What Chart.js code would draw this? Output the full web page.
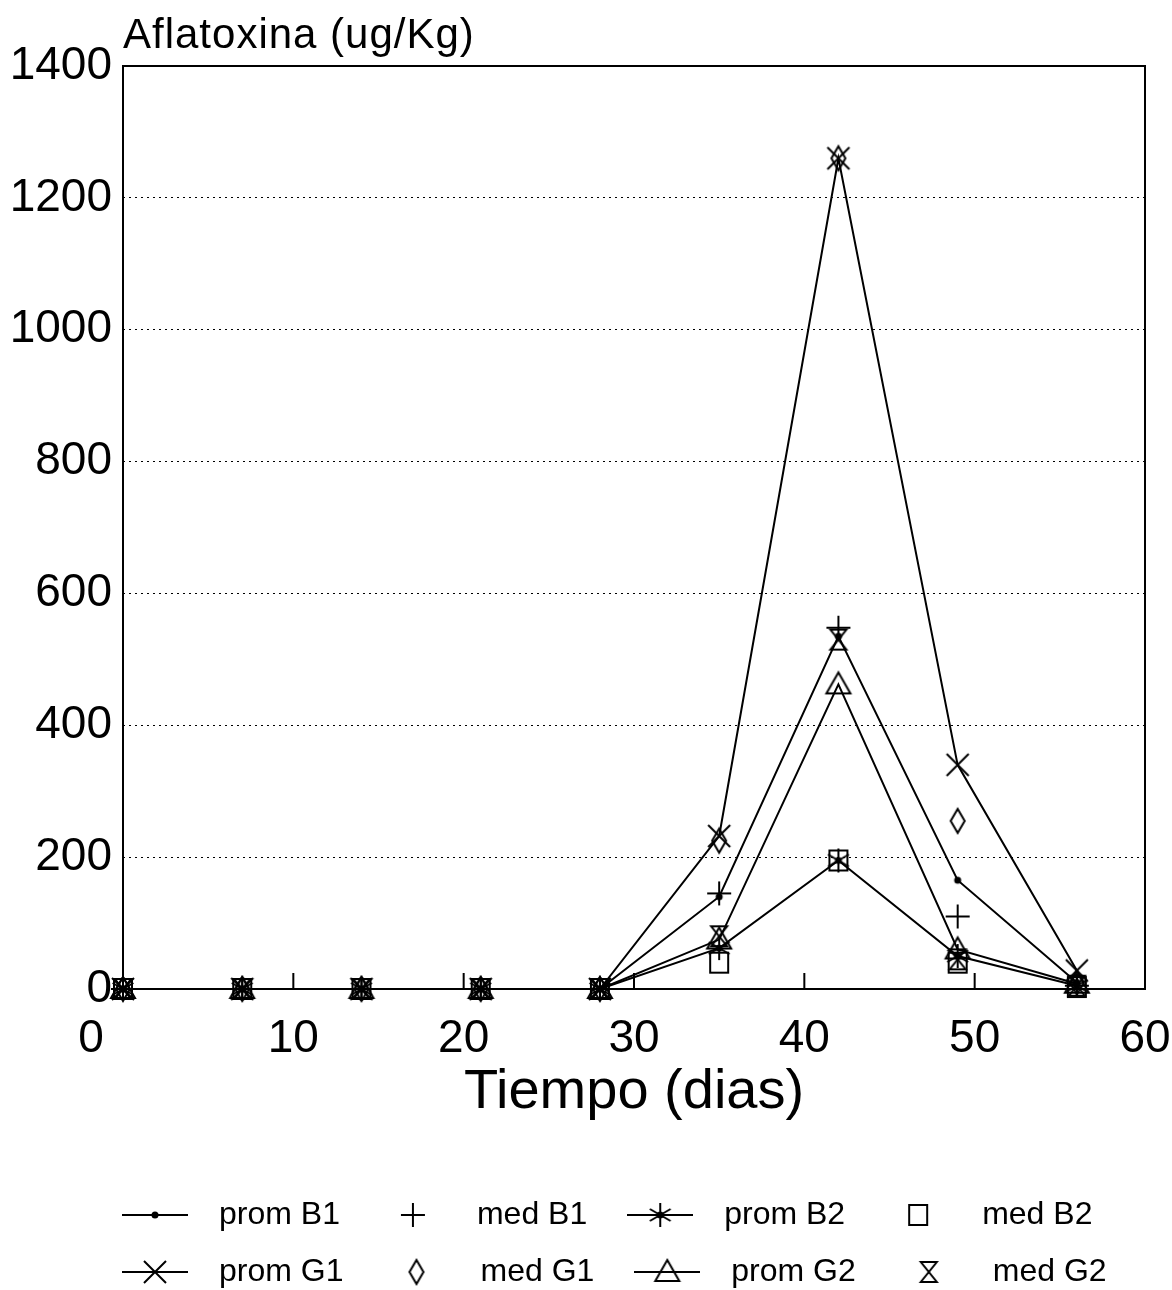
<!DOCTYPE html>
<html>
<head>
<meta charset="utf-8">
<title>Aflatoxina</title>
<script src="https://cdn.jsdelivr.net/npm/chart.js@4.4.0/dist/chart.umd.min.js"></script>
<style>
  html, body { margin: 0; padding: 0; background: #fff; }
  #wrap { width: 1172px; height: 1290px; }
</style>
</head>
<body>
<div id="wrap"><canvas id="aflaChart"></canvas></div>
<script>
// dias de muestreo
const days = [0, 7, 14, 21, 28, 35, 42, 49, 56];
const xTicks = [0, 10, 20, 30, 40, 50, 60];
const yTicks = [0, 200, 400, 600, 800, 1000, 1200, 1400];

// valores (ug/Kg)
const promB1 = [0, 0, 0, 0, 0, 140, 535, 165, 10];
const medB1  = [0, 0, 0, 0, 0, 145, 548, 110, 5];
const promB2 = [0, 0, 0, 0, 0, 62, 195, 50, 5];
const medB2  = [0, 0, 0, 0, 0, 40, 195, 40, 3];
const promG1 = [0, 0, 0, 0, 0, 232, 1260, 340, 28];
const medG1  = [0, 0, 0, 0, 0, 225, 1260, 255, 10];
const promG2 = [0, 0, 0, 0, 0, 75, 462, 60, 8];
const medG2  = [0, 0, 0, 0, 0, 80, 530, 45, 5];

const seriesNames = ['prom B1', 'med B1', 'prom B2', 'med B2', 'prom G1', 'med G1', 'prom G2', 'med G2'];
const seriesValues = [promB1, medB1, promB2, medB2, promG1, medG1, promG2, medG2];
const seriesMarks = ['dot', 'plus', 'star', 'square', 'x', 'diamond', 'triangle', 'hourglass'];
const seriesLines = [true, false, true, false, true, false, true, false];

const FONT = "'Liberation Sans', Arial, sans-serif";

// dibuja un simbolo centrado en (cx, cy)
function drawMark(ctx, kind, cx, cy) {
  ctx.save();
  ctx.strokeStyle = '#000';
  ctx.fillStyle = '#000';
  ctx.lineWidth = 2;
  ctx.beginPath();
  if (kind === 'dot') {
    ctx.arc(cx, cy, 3.5, 0, Math.PI * 2);
    ctx.fill();
  } else if (kind === 'plus') {
    ctx.moveTo(cx - 12, cy); ctx.lineTo(cx + 12, cy);
    ctx.moveTo(cx, cy - 12); ctx.lineTo(cx, cy + 12);
    ctx.stroke();
  } else if (kind === 'x') {
    ctx.moveTo(cx - 11, cy - 11); ctx.lineTo(cx + 11, cy + 11);
    ctx.moveTo(cx + 11, cy - 11); ctx.lineTo(cx - 11, cy + 11);
    ctx.stroke();
  } else if (kind === 'star') {
    for (let a = 0; a < 3; a++) {
      const ang = Math.PI / 2 + a * Math.PI / 3;
      ctx.moveTo(cx + 12 * Math.cos(ang), cy + 12 * Math.sin(ang));
      ctx.lineTo(cx - 12 * Math.cos(ang), cy - 12 * Math.sin(ang));
    }
    ctx.stroke();
    ctx.beginPath();
    ctx.arc(cx, cy, 3.5, 0, Math.PI * 2);
    ctx.fill();
  } else if (kind === 'square') {
    ctx.rect(cx - 9, cy - 10, 18, 20);
    ctx.stroke();
  } else if (kind === 'diamond') {
    ctx.moveTo(cx, cy - 12); ctx.lineTo(cx + 7, cy);
    ctx.lineTo(cx, cy + 12); ctx.lineTo(cx - 7, cy);
    ctx.closePath();
    ctx.stroke();
  } else if (kind === 'triangle') {
    ctx.moveTo(cx, cy - 12); ctx.lineTo(cx + 12, cy + 9);
    ctx.lineTo(cx - 12, cy + 9);
    ctx.closePath();
    ctx.stroke();
  } else if (kind === 'hourglass') {
    ctx.moveTo(cx - 8, cy - 10); ctx.lineTo(cx + 8, cy - 10);
    ctx.lineTo(cx - 8, cy + 10); ctx.lineTo(cx + 8, cy + 10);
    ctx.closePath();
    ctx.stroke();
  }
  ctx.restore();
}

// icono como canvas (para puntos y leyenda)
function makeIcon(kind, withLine) {
  const c = document.createElement('canvas');
  c.width = withLine ? 66 : 30;
  c.height = 30;
  const ctx = c.getContext('2d');
  if (withLine) {
    ctx.strokeStyle = '#000';
    ctx.lineWidth = 2;
    ctx.beginPath();
    ctx.moveTo(0, 15); ctx.lineTo(66, 15);
    ctx.stroke();
  }
  drawMark(ctx, kind, c.width / 2, 15);
  return c;
}

const pointIcons = seriesMarks.map(k => makeIcon(k, false));
const legendIcons = seriesMarks.map((k, i) => makeIcon(k, seriesLines[i]));

const datasets = seriesNames.map((name, i) => ({
  label: name,
  data: days.map((d, j) => ({ x: d, y: seriesValues[i][j] })),
  showLine: seriesLines[i],
  borderColor: '#000',
  borderWidth: 2,
  backgroundColor: 'transparent',
  pointStyle: pointIcons[i],
  pointRadius: 12,
  pointHoverRadius: 12,
  tension: 0,
  clip: false
}));

// marco, marcas interiores del eje x y titulo del eje y
const framePlugin = {
  id: 'frame',
  afterLayout(chart) {
    // la leyenda empieza bajo el borde izquierdo del grafico
    chart.legend.left = 82;
    chart.legend.right = chart.width;
  },
  beforeDatasetsDraw(chart) {
    const { ctx, chartArea: a, scales } = chart;
    ctx.save();
    ctx.strokeStyle = '#000';
    ctx.lineWidth = 2;
    ctx.strokeRect(a.left, a.top, a.right - a.left, a.bottom - a.top);
    ctx.beginPath();
    xTicks.slice(1, -1).forEach(v => {
      const px = scales.x.getPixelForValue(v);
      ctx.moveTo(px, a.bottom);
      ctx.lineTo(px, a.bottom - 16);
    });
    ctx.stroke();
    ctx.restore();
  },
  afterDraw(chart) {
    const { ctx, chartArea: a } = chart;
    ctx.save();
    ctx.fillStyle = '#000';
    ctx.font = '42px ' + FONT;
    ctx.letterSpacing = '1px';
    ctx.textAlign = 'left';
    ctx.textBaseline = 'alphabetic';
    ctx.fillText('Aflatoxina (ug/Kg)', a.left, a.top - 18);
    ctx.restore();
  }
};

new Chart(document.getElementById('aflaChart'), {
  type: 'scatter',
  data: { datasets },
  plugins: [framePlugin],
  options: {
    responsive: true,
    maintainAspectRatio: false,
    animation: false,
    events: [],
    layout: { padding: { top: 66, left: 0, right: 0, bottom: -8 } },
    scales: {
      x: {
        type: 'linear',
        min: 0,
        max: 60,
        afterBuildTicks: (scale) => { scale.ticks = xTicks.map(v => ({ value: v })); },
        afterFit: (scale) => { scale.paddingRight = 27; scale.paddingLeft = 0; },
        ticks: {
          color: '#000',
          font: { family: FONT, size: 46, lineHeight: 1 },
          padding: 27,
          // el 0 del eje x va corrido a la izquierda, como en el original
          callback: (v) => (v === 0 ? '0     ' : String(v))
        },
        grid: { display: false, drawTicks: false },
        border: { display: false },
        title: {
          display: true,
          text: 'Tiempo (dias)',
          color: '#000',
          font: { family: FONT, size: 56, lineHeight: 1 },
          padding: { top: -24, bottom: 53 }
        }
      },
      y: {
        type: 'linear',
        min: 0,
        max: 1400,
        afterBuildTicks: (scale) => { scale.ticks = yTicks.map(v => ({ value: v })); },
        afterFit: (scale) => { scale.width = 123; },
        ticks: {
          color: '#000',
          font: { family: FONT, size: 46 },
          padding: 11,
          callback: (v) => String(v)
        },
        grid: { color: '#000', lineWidth: 1, drawTicks: false },
        border: { display: false, dash: [2, 4] }
      }
    },
    plugins: {
      tooltip: { enabled: false },
      legend: {
        position: 'bottom',
        align: 'start',
        labels: {
          usePointStyle: true,
          pointStyleWidth: 96,
          boxHeight: 30,
          padding: 25,
          color: '#000',
          font: { family: FONT, size: 32 },
          generateLabels: (chart) => chart.data.datasets.map((ds, i) => ({
            text: ds.label,
            pointStyle: legendIcons[i],
            fillStyle: 'transparent',
            strokeStyle: '#000',
            lineWidth: 0,
            hidden: false,
            datasetIndex: i,
            fontColor: '#000'
          }))
        }
      }
    }
  }
});
</script>
</body>
</html>
